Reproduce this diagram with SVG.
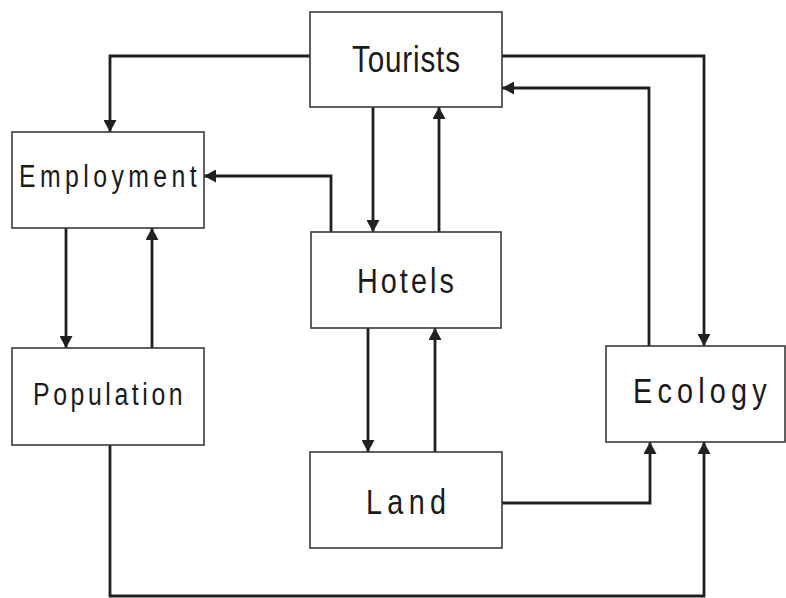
<svg xmlns="http://www.w3.org/2000/svg" width="786" height="598" viewBox="0 0 786 598">
<defs>
<marker id="ah" viewBox="0 0 12 13" refX="12" refY="6.5" markerWidth="12" markerHeight="13" markerUnits="userSpaceOnUse" orient="auto">
<path d="M0,0 L12,6.5 L0,13 Z" fill="#231f20"/>
</marker>
<style>
.box{fill:#fff;stroke:#3a3a3a;stroke-width:1.6}
.lbl{font-family:"Liberation Sans",Arial,sans-serif;fill:#1a1a1a}
.c{fill:none;stroke:#231f20;stroke-width:2.8;marker-end:url(#ah)}
</style>
</defs>
<rect width="786" height="598" fill="#fff"/>
<g id="connectors">
<path class="c" d="M310,56 H110 V132"/>
<path class="c" d="M502,56 H704 V346"/>
<path class="c" d="M649,346 V88 H502"/>
<path class="c" d="M373,107 V232"/>
<path class="c" d="M439,232 V107"/>
<path class="c" d="M331,232 V176 H204"/>
<path class="c" d="M66,228 V348"/>
<path class="c" d="M152,348 V228"/>
<path class="c" d="M368,328 V452"/>
<path class="c" d="M435,452 V328"/>
<path class="c" d="M502,503 H650 V442"/>
<path class="c" d="M110,445 V596 H704 V442"/>
</g>
<g id="tourists">
<rect class="box" x="310" y="12" width="192" height="95"/>
<text class="lbl" transform="translate(352,72) scale(0.8,1)" font-size="37" textLength="135" lengthAdjust="spacing">Tourists</text>
</g>
<g id="employment">
<rect class="box" x="12" y="132" width="192" height="96"/>
<text class="lbl" transform="translate(19,187) scale(0.8,1)" font-size="31" textLength="222" lengthAdjust="spacing">Employment</text>
</g>
<g id="hotels">
<rect class="box" x="311" y="232" width="190" height="96"/>
<text class="lbl" transform="translate(357,293) scale(0.8,1)" font-size="36" textLength="121" lengthAdjust="spacing">Hotels</text>
</g>
<g id="population">
<rect class="box" x="12" y="348" width="192" height="97"/>
<text class="lbl" transform="translate(33,405) scale(0.8,1)" font-size="31" textLength="187" lengthAdjust="spacing">Population</text>
</g>
<g id="ecology">
<rect class="box" x="606" y="346" width="179" height="96"/>
<text class="lbl" transform="translate(633,403) scale(0.8,1)" font-size="36" textLength="167" lengthAdjust="spacing">Ecology</text>
</g>
<g id="land">
<rect class="box" x="310" y="452" width="192" height="96"/>
<text class="lbl" transform="translate(366,514) scale(0.8,1)" font-size="36" textLength="100" lengthAdjust="spacing">Land</text>
</g>
</svg>
